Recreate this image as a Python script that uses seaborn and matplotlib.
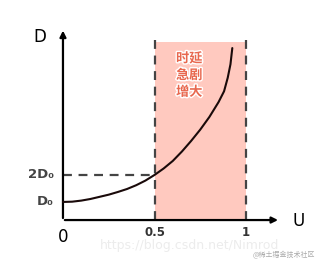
import matplotlib
matplotlib.use("Agg")
import matplotlib.pyplot as plt
import matplotlib.patheffects as pe
import seaborn as sns
import pandas as pd

# data (U utilisation, D delay in units of D0)
u_vals = [0, 0.05, 0.1, 0.15, 0.2, 0.25, 0.3, 0.35, 0.4, 0.45, 0.5, 0.55, 0.6, 0.65, 0.7,
          0.75, 0.8, 0.85, 0.88, 0.9, 0.915, 0.925]
d_vals = [1.0, 1.01, 1.05, 1.11, 1.19, 1.27, 1.37, 1.48, 1.62, 1.79, 2.0, 2.24, 2.52, 2.87, 3.26,
          3.68, 4.15, 4.7, 5.1, 5.6, 6.1, 6.7]
x_ticks = [0, 0.5, 1]
x_tick_labels = ["0", "0.5", "1"]
y_ticks = [1, 2]
y_tick_labels = ["D₀", "2D₀"]
zone = [0.5, 1.0]
zone_label = "时延\n急剧\n增大"

sns.set_theme(style="white")
plt.rcParams['font.family'] = ['DejaVu Sans', 'Noto Sans CJK SC']

fig = plt.figure(figsize=(3.22, 2.60), dpi=100)
ax = fig.add_axes([0, 0, 1, 1])
ax.set_xlim(-0.344, 1.415)
ax.set_ylim(-1.15, 8.48)
ax.axis("off")

base = 0.33
top_line = 7.2
# shaded zone
ax.fill_between(zone, [base, base], [6.93, 6.93], color="#FFC9BF", lw=0, zorder=1)
# dashed verticals
for z in zone:
    ax.plot([z, z], [base, top_line], color="#444444", lw=1.6, ls=(0, (4, 3)), zorder=2)
# dashed horizontal at 2D0
ax.plot([0, 0.5], [2, 2], color="#444444", lw=1.6, ls=(0, (4, 3)), zorder=2)

df = pd.DataFrame({"U": u_vals, "D": d_vals})
sns.lineplot(data=df, x="U", y="D", ax=ax, color="#1a0a0a", lw=1.5, zorder=4, sort=True)

# axes with arrows
ax.annotate("", xy=(1.19, base), xytext=(-0.005, base),
            arrowprops=dict(arrowstyle="-|>", color="black", lw=1.6, mutation_scale=9))
ax.annotate("", xy=(0, 7.45), xytext=(0, base - 0.03),
            arrowprops=dict(arrowstyle="-|>", color="black", lw=1.6, mutation_scale=9))

ax.text(-0.125, 7.1, "D", fontsize=12, ha="center", va="center", color="black")
ax.text(1.285, 0.3, "U", fontsize=12, ha="center", va="center", color="black")

for t, lab in zip(x_ticks, x_tick_labels):
    if t == 0:
        ax.text(t, -0.3, lab, fontsize=12, ha="center", va="center", color="black")
    else:
        ax.text(t, -0.12, lab, fontsize=8.5, ha="center", va="center", color="#333333",
                fontweight="bold")
for t, lab in zip(y_ticks, y_tick_labels):
    ax.text(-0.05, t, lab, fontsize=9.5, ha="right", va="center", color="#444444",
            fontweight="bold")

ax.text(0.69, 5.7, zone_label, fontsize=9.5, ha="center", va="center", color="#E8684F",
        fontweight="bold", family=['Noto Sans CJK SC', 'DejaVu Sans'], linespacing=1.25,
        path_effects=[pe.withStroke(linewidth=2, foreground="white")], zorder=5)

# faint watermarks
ax.text(0.2, -0.62, "https://blog.csdn.net/Nimrod", fontsize=9, ha="left", va="center",
        color="#ececec", zorder=0)
ax.text(1.38, -0.97, "@稀土掘金技术社区", fontsize=5, ha="right", va="center",
        color="#aaaaaa", family=['Noto Sans CJK SC', 'DejaVu Sans'])

fig.savefig("out.png", dpi=100)
